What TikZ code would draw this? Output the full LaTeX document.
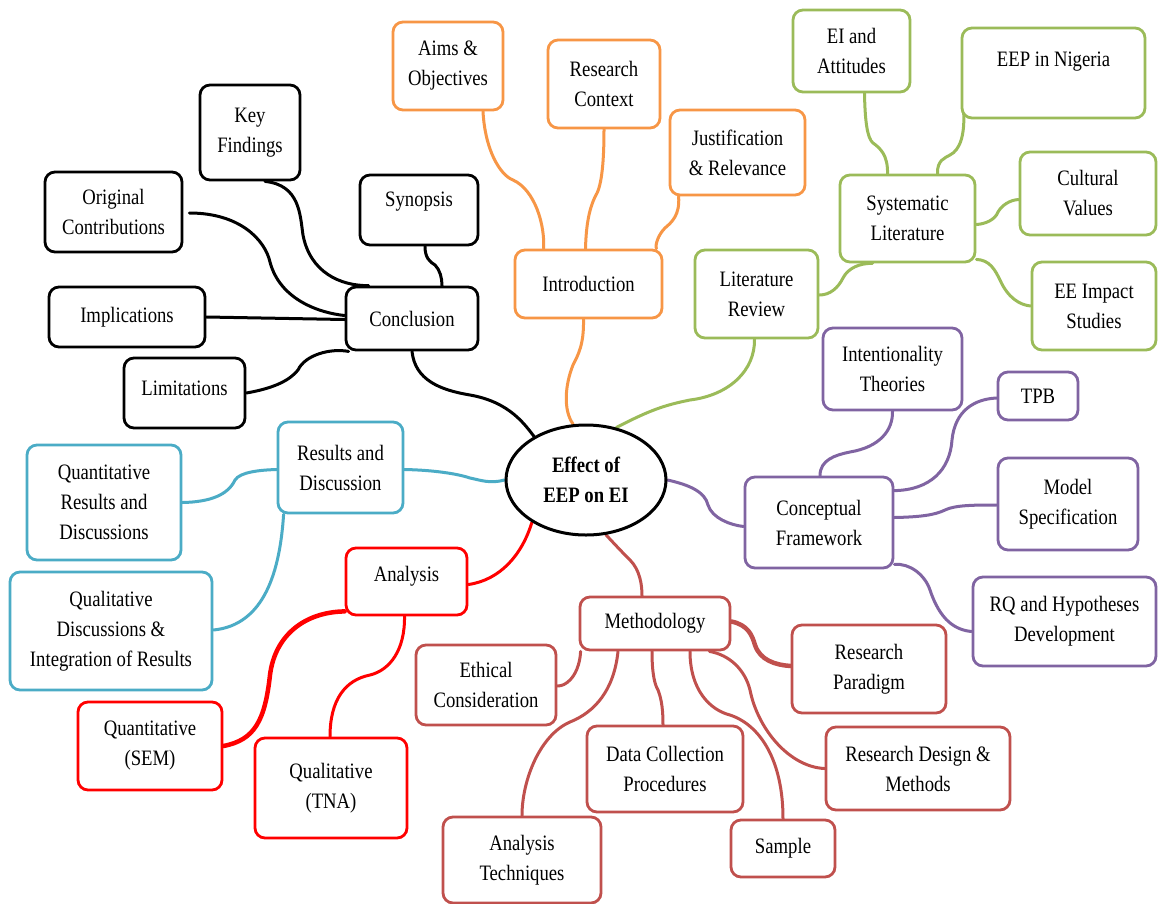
\documentclass[tikz,border=0pt]{standalone}
\usepackage{fontspec}
\setmainfont{Liberation Serif}[FakeStretch=0.85]
\usetikzlibrary{calc,shapes.geometric}
\pgfdeclarelayer{bg}
\pgfsetlayers{bg,main}
\definecolor{cOrange}{HTML}{F79646}
\definecolor{cGreen}{HTML}{9BBB59}
\definecolor{cPurple}{HTML}{8064A2}
\definecolor{cBlue}{HTML}{4BACC6}
\definecolor{cRed}{HTML}{FF0000}
\definecolor{cBrown}{HTML}{C0504D}
\tikzset{
  box/.style={rectangle,rounded corners=10pt,line width=2.8pt,fill=white,
    align=center,inner sep=2pt,font=\fontsize{22}{30}\selectfont},
  link/.style={line width=3pt,line cap=round},
  thicklink/.style={line width=4.5pt},
}
% box: name, colour, x1, y1, x2, y2, text (y grows downwards)
\newcommand\bnode[7]{\node[box,draw=#2,minimum width={(#5-#3)*1pt},minimum height={(#6-#4)*1pt}]
  (#1) at ({(#3+#5)/2},{(#4+#6)/2}) {#7};}
% text raised inside its box without changing the box
\newcommand\up[2]{\raisebox{#1pt}[\height][\depth]{#2}}
\begin{document}
\begin{tikzpicture}[x=1pt,y=-1pt]
\useasboundingbox (0,0) rectangle (1159,903);

% central topic
\node[ellipse,draw=black,line width=3pt,fill=white,minimum width=160pt,minimum height=110pt,
  align=center,font=\fontsize{22}{30}\selectfont\bfseries] (eep) at (586,480) {Effect of\\EEP on EI};

% conclusion branch
\bnode{kf}{black}{200}{85}{300}{180}{Key\\Findings}
\bnode{oc}{black}{45}{172}{182}{252}{Original\\Contributions}
\bnode{syn}{black}{360}{175}{478}{245}{\up{8}{Synopsis}}
\bnode{conc}{black}{346}{287}{478}{350}{Conclusion}
\bnode{impl}{black}{49}{287}{205}{347}{Implications}
\bnode{lim}{black}{124}{358}{245}{428}{\up{5}{Limitations}}

% introduction branch
\bnode{aims}{cOrange}{393}{22}{503}{110}{Aims \&\\Objectives}
\bnode{rc}{cOrange}{548}{40}{660}{128}{Research\\Context}
\bnode{jr}{cOrange}{670}{110}{805}{195}{Justification\\\& Relevance}
\bnode{intro}{cOrange}{515}{250}{662}{318}{Introduction}

% literature branch
\bnode{eia}{cGreen}{793}{10}{910}{92}{EI and\\Attitudes}
\bnode{nig}{cGreen}{962}{28}{1145}{118}{\up{11}{EEP in Nigeria}}
\bnode{sys}{cGreen}{840}{175}{975}{262}{Systematic\\Literature}
\bnode{cv}{cGreen}{1020}{152}{1156}{235}{Cultural\\Values}
\bnode{eei}{cGreen}{1032}{262}{1156}{350}{EE Impact\\Studies}
\bnode{lr}{cGreen}{695}{250}{818}{338}{Literature\\Review}

% conceptual framework branch
\bnode{it}{cPurple}{823}{328}{962}{410}{Intentionality\\Theories}
\bnode{tpb}{cPurple}{998}{372}{1078}{420}{TPB}
\bnode{cf}{cPurple}{745}{477}{893}{568}{Conceptual\\Framework}
\bnode{ms}{cPurple}{998}{458}{1138}{550}{Model\\Specification}
\bnode{rq}{cPurple}{973}{577}{1156}{666}{RQ and Hypotheses\\Development}

% results branch
\bnode{rd}{cBlue}{278}{422}{403}{513}{Results and\\Discussion}
\bnode{qrd}{cBlue}{27}{445}{181}{560}{Quantitative\\Results and\\Discussions}
\bnode{qdi}{cBlue}{10}{572}{212}{690}{Qualitative\\Discussions \&\\Integration of Results}

% analysis branch
\bnode{ana}{cRed}{346}{548}{467}{615}{\up{5}{Analysis}}
\bnode{sem}{cRed}{78}{702}{222}{790}{Quantitative\\(SEM)}
\bnode{tna}{cRed}{255}{738}{407}{838}{Qualitative\\(TNA)}

% methodology branch
\bnode{meth}{cBrown}{580}{597}{730}{650}{Methodology}
\bnode{eth}{cBrown}{416}{645}{556}{725}{Ethical\\Consideration}
\bnode{rp}{cBrown}{792}{625}{946}{713}{Research\\Paradigm}
\bnode{dc}{cBrown}{587}{726}{743}{812}{Data Collection\\Procedures}
\bnode{rdm}{cBrown}{826}{727}{1010}{810}{Research Design \&\\Methods}
\bnode{smp}{cBrown}{731}{820}{835}{877}{Sample}
\bnode{at}{cBrown}{443}{817}{601}{903}{Analysis\\Techniques}

% ---------- connectors, behind the boxes ----------
\begin{pgfonlayer}{bg}
\fill[white] (0,0) rectangle (1159,903);
\begin{scope}[link]
% black
\draw[black] ($(kf.south)+(15,0)$) .. controls (300,185) and (300,215) .. (303,235)
  .. controls (310,272) and (340,286) .. ($(conc.north west)+(24,0)$);
\draw[black] ($(oc.east)+(6,1)$) .. controls (240,213) and (265,240) .. (270,262)
  .. controls (280,300) and (320,313) .. ($(conc.west)+(0,-3)$);
\draw[black] (impl.east) -- ($(conc.west)+(0,1)$);
\draw[black] (lim.east) .. controls (275,388) and (290,380) .. (298,370)
  .. controls (305,355) and (330,348) .. ($(conc.south west)+(4,0)$);
\draw[black] ($(syn.south)+(6,0)$) .. controls (425,258) and (430,262) .. (435,265)
  .. controls (440,270) and (442,278) .. ($(conc.north)+(30,0)$);
\draw[black] (conc.south) .. controls (415,380) and (440,390) .. (470,395)
  .. controls (510,402) and (525,425) .. (eep.140);
% orange
\draw[cOrange] ($(aims.south)+(35,0)$) .. controls (485,150) and (500,175) .. (513,180)
  .. controls (535,190) and (545,225) .. ($(intro.north west)+(30,0)$);
\draw[cOrange] (rc.south) .. controls (604,160) and (602,185) .. (596,195)
  .. controls (588,210) and (586,230) .. ($(intro.north)+(-3,0)$);
\draw[cOrange] ($(jr.south west)+(10,0)$) .. controls (680,215) and (672,222) .. (665,228)
  .. controls (658,235) and (655,245) .. ($(intro.north east)+(-7,0)$);
\draw[cOrange] ($(intro.south)+(-5,0)$) .. controls (584,345) and (578,355) .. (573,365)
  .. controls (565,385) and (563,410) .. (eep.103);
% green
\draw[cGreen] (eep.60) .. controls (650,410) and (665,405) .. (690,400)
  .. controls (730,395) and (755,370) .. ($(lr.south)+(-2,0)$);
\draw[cGreen] ($(lr.east)+(0,1)$) .. controls (830,295) and (838,288) .. (843,278)
  .. controls (848,268) and (860,263) .. ($(sys.south)+(-35,0)$);
\draw[cGreen] ($(sys.north)+(-20,0)$) .. controls (888,155) and (880,148) .. (873,143)
  .. controls (867,138) and (865,120) .. ($(eia.south)+(13,0)$);
\draw[cGreen] ($(sys.north)+(30,0)$) .. controls (937,160) and (945,158) .. (950,155)
  .. controls (960,150) and (965,135) .. ($(nig.south west)+(3,-8)$);
\draw[cGreen] ($(sys.east)+(0,6)$) .. controls (985,224) and (995,220) .. (998,212)
  .. controls (1002,205) and (1010,200) .. ($(cv.west)+(0,6)$);
\draw[cGreen] ($(sys.south east)+(0,-4)$) .. controls (990,260) and (995,270) .. (1000,280)
  .. controls (1008,298) and (1020,305) .. (eei.west);
% purple
\draw[cPurple] (eep.east) .. controls (690,485) and (705,492) .. (708,505)
  .. controls (712,518) and (730,525) .. ($(cf.west)+(0,4)$);
\draw[cPurple] ($(cf.north)+(1,0)$) .. controls (820,460) and (835,455) .. (850,452)
  .. controls (880,447) and (893,430) .. (it.south);
\draw[cPurple] ($(cf.north east)+(0,15)$) .. controls (930,490) and (950,470) .. (952,440)
  .. controls (955,410) and (975,399) .. ($(tpb.west)+(0,2)$);
\draw[cPurple] ($(cf.east)+(0,-5)$) .. controls (920,517) and (935,515) .. (945,510)
  .. controls (955,505) and (975,505) .. ($(ms.west)+(0,1)$);
\draw[cPurple] ($(cf.south east)+(0,-5)$) .. controls (910,563) and (925,575) .. (930,590)
  .. controls (940,620) and (955,630) .. ($(rq.west)+(0,10)$);
% blue
\draw[cBlue] (eep.west) .. controls (490,484) and (480,480) .. (470,478)
  .. controls (455,473) and (430,470) .. ($(rd.east)+(0,2)$);
\draw[cBlue] ($(rd.west)+(0,2)$) .. controls (260,470) and (240,472) .. (235,480)
  .. controls (228,495) and (210,502) .. (qrd.east);
\draw[cBlue] ($(rd.south west)+(7,0)$) .. controls (280,570) and (265,625) .. ($(qdi.east)+(0,-1)$);
% red
\draw[cRed] (eep.218) .. controls (522,555) and (500,580) .. ($(ana.east)+(0,3)$);
\draw[cRed,thicklink] ($(ana.south west)+(0,-5)$) .. controls (305,612) and (275,635) .. (270,675)
  .. controls (265,720) and (255,740) .. (sem.east);
\draw[cRed] ($(ana.south)+(-2,0)$) .. controls (405,650) and (390,670) .. (370,675)
  .. controls (345,680) and (330,700) .. ($(tna.north)+(-1,0)$);
% brown
\draw[cBrown] (eep.290) .. controls (620,550) and (625,555) .. (630,560)
  .. controls (640,570) and (642,585) .. ($(meth.north)+(-13,0)$);
\draw[cBrown] ($(meth.south west)+(2,0)$) .. controls (580,665) and (575,675) .. (570,680)
  .. controls (566,684) and (562,686) .. ($(eth.east)+(0,1)$);
\draw[cBrown] ($(meth.south)+(-37,0)$) .. controls (614,690) and (595,712) .. (570,722)
  .. controls (540,735) and (522,780) .. (at.north);
\draw[cBrown] ($(meth.south)+(-3,0)$) .. controls (652,675) and (655,685) .. (658,690)
  .. controls (662,700) and (663,712) .. ($(dc.north)+(-2,0)$);
\draw[cBrown] ($(meth.south)+(35,0)$) .. controls (690,690) and (710,710) .. (730,715)
  .. controls (760,725) and (783,760) .. (smp.north);
\draw[cBrown] ($(meth.south east)+(-22,0)$) .. controls (730,655) and (745,670) .. (750,690)
  .. controls (758,730) and (790,767) .. (rdm.west);
\draw[cBrown,thicklink] ($(meth.east)+(0,-2)$) .. controls (748,625) and (752,635) .. (755,645)
  .. controls (760,660) and (775,665) .. ($(rp.west)+(0,-3)$);
\end{scope}
\end{pgfonlayer}
\end{tikzpicture}
\end{document}
